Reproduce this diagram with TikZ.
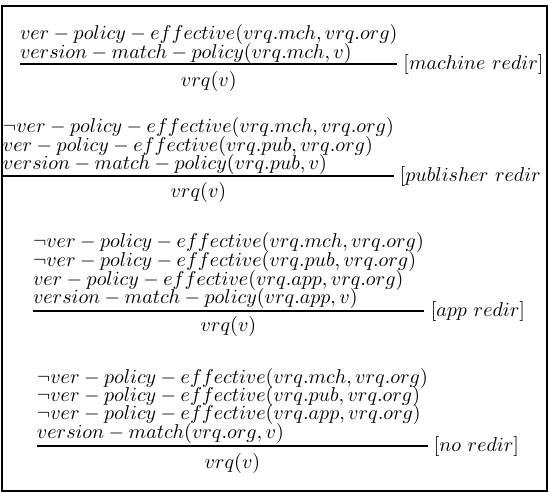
\documentclass[tikz,border=0pt]{standalone}
\usetikzlibrary{calc}
\tikzset{
  prem/.style={anchor=base west, inner sep=0pt, outer sep=0pt},
  concl/.style={anchor=base, inner sep=0pt, outer sep=0pt},
  rulelabel/.style={anchor=west, inner sep=0pt, outer sep=0pt},
  infline/.style={line width=0.55pt},
  frame/.style={line width=0.8pt}
}
\newcommand{\vpe}{ver-policy-effective}
\begin{document}
\begin{tikzpicture}[x=0.5pt,y=-0.5pt]
\useasboundingbox (0,0) rectangle (548,493);
\draw[frame] (2,6) rectangle (547,491);
% rule 1
\node[prem] (a1) at (20,39) {$\vpe(vrq.mch,vrq.org)$};
\node[prem] (a2) at (20,58) {$version-match-policy(vrq.mch,v)$};
\coordinate (as) at (20,64);
\coordinate (ae) at (a1.east |- as);
\draw[infline] (as) -- (ae);
\node[concl] (ac) at ($(as)!0.5!(ae)+(0,22)$) {$vrq(v)$};
\node[rulelabel] (al) at ($(ae)+(6,0)$) {$[machine\ redir]$};
% rule 2
\node[prem] (b1) at (3,132) {$\neg \vpe(vrq.mch,vrq.org)$};
\node[prem] (b2) at (3,151) {$\vpe(vrq.pub,vrq.org)$};
\node[prem] (b3) at (3,169) {$version-match-policy(vrq.pub,v)$};
\coordinate (bs) at (3,176);
\coordinate (be) at (b1.east |- bs);
\draw[infline] (bs) -- (be);
\node[concl] (bc) at ($(bs)!0.5!(be)+(0,21)$) {$vrq(v)$};
\node[rulelabel] (bl) at ($(be)+(6,0)$) {$[publisher\ redir$};
% rule 3
\node[prem] (c1) at (33,247) {$\neg \vpe(vrq.mch,vrq.org)$};
\node[prem] (c2) at (33,266) {$\neg \vpe(vrq.pub,vrq.org)$};
\node[prem] (c3) at (33,285) {$\vpe(vrq.app,vrq.org)$};
\node[prem] (c4) at (33,303) {$version-match-policy(vrq.app,v)$};
\coordinate (cs) at (33,311);
\coordinate (ce) at (c1.east |- cs);
\draw[infline] (cs) -- (ce);
\node[concl] (cc) at ($(cs)!0.5!(ce)+(0,20)$) {$vrq(v)$};
\node[rulelabel] (cl) at ($(ce)+(7,0)$) {$[app\ redir]$};
% rule 4
\node[prem] (d1) at (37,383) {$\neg \vpe(vrq.mch,vrq.org)$};
\node[prem] (d2) at (37,401) {$\neg \vpe(vrq.pub,vrq.org)$};
\node[prem] (d3) at (37,419) {$\neg \vpe(vrq.app,vrq.org)$};
\node[prem] (d4) at (37,438) {$version-match(vrq.org,v)$};
\coordinate (ds) at (37,446);
\coordinate (de) at (d1.east |- ds);
\draw[infline] (ds) -- (de);
\node[concl] (dc) at ($(ds)!0.5!(de)+(0,22)$) {$vrq(v)$};
\node[rulelabel] (dl) at ($(de)+(6,0)$) {$[no\ redir]$};
\end{tikzpicture}
\end{document}
